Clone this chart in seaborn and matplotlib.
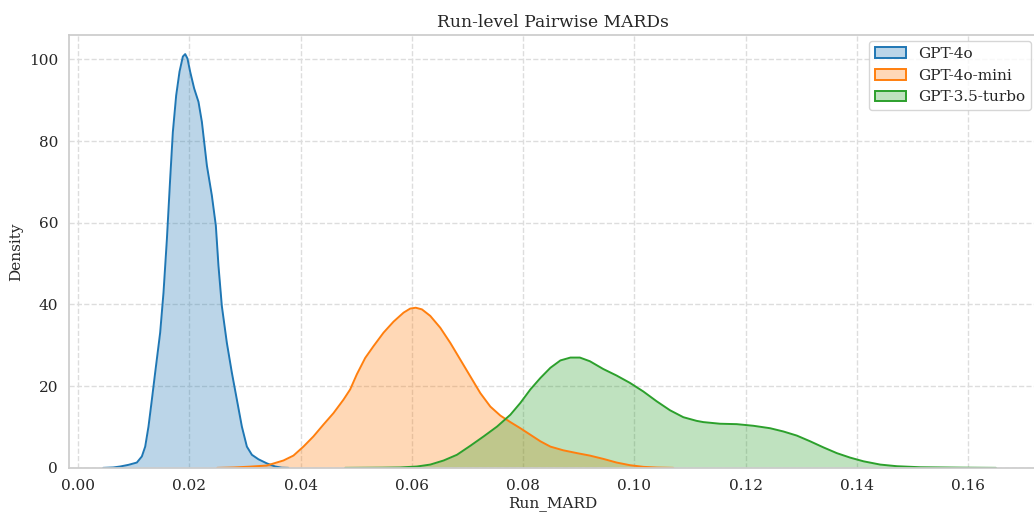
import numpy as np
import pandas as pd
import matplotlib
matplotlib.use("Agg")
import matplotlib.pyplot as plt
from matplotlib.patches import Patch
import seaborn as sns


MODELS = ["GPT-4o", "GPT-4o-mini", "GPT-3.5-turbo"]

# density curves
gpt4o_x = [0.0045, 0.0063, 0.00755, 0.00905, 0.01055, 0.01145, 0.01205, 0.01264,
           0.01325, 0.01384, 0.01474, 0.01534, 0.01595, 0.01654, 0.01702,
           0.01762, 0.01822, 0.01882, 0.01924, 0.01965, 0.02013, 0.02085,
           0.02163, 0.02224, 0.02314, 0.02403, 0.02475, 0.02522, 0.02583,
           0.02673, 0.02763, 0.02853, 0.02943, 0.03033, 0.03123, 0.03241,
           0.03392, 0.03542, 0.0366, 0.0378]
gpt4o_y = [0.0, 0.1, 0.33, 0.74, 1.3, 2.8, 5.2, 10.1,
           16.7, 23.3, 33.1, 42.9, 56.0, 70.8, 82.2,
           91.2, 97.0, 100.7, 101.3, 100.2, 97.0, 92.9,
           89.6, 84.7, 74.0, 66.7, 59.3, 49.5, 39.6,
           30.6, 23.3, 16.7, 10.1, 5.2, 3.2, 2.1,
           1.1, 0.33, 0.05, 0.0]

mini_x = [0.0250, 0.0280, 0.0309, 0.0339, 0.0369, 0.0387, 0.0405, 0.0423, 0.0441,
          0.0459, 0.0477, 0.0489, 0.0501, 0.0516, 0.0531, 0.0549, 0.0567,
          0.0585, 0.0597, 0.0607, 0.0618, 0.0633, 0.0651, 0.0669, 0.0687,
          0.0705, 0.0723, 0.0741, 0.0759, 0.0777, 0.0795, 0.0813, 0.0831,
          0.0849, 0.0872, 0.0897, 0.0920, 0.0944, 0.0968, 0.0992, 0.1016,
          0.1040, 0.1070]
mini_y = [0.0, 0.1, 0.3, 0.57, 1.8, 3.0, 5.2, 7.7, 10.6,
          13.4, 16.7, 19.2, 22.9, 26.9, 29.8, 33.1, 35.8,
          38.0, 39.0, 39.2, 38.8, 37.2, 34.3, 30.6, 26.5,
          22.4, 18.3, 15.0, 12.8, 11.2, 9.7, 8.1, 6.5,
          5.2, 4.3, 3.6, 3.0, 2.2, 1.3, 0.65, 0.25,
          0.08, 0.0]

turbo_x = [0.0480, 0.0548, 0.0579, 0.0609, 0.0633, 0.0657, 0.0681, 0.0705, 0.0729,
           0.0753, 0.0777, 0.0795, 0.0813, 0.0831, 0.0849, 0.0867, 0.0885,
           0.0902, 0.0920, 0.0944, 0.0968, 0.0992, 0.1016, 0.1040, 0.1064,
           0.1088, 0.1112, 0.1124, 0.1154, 0.1184, 0.1214, 0.1244, 0.1268,
           0.1292, 0.1316, 0.1340, 0.1364, 0.1388, 0.1412, 0.1442, 0.1472,
           0.1514, 0.1590, 0.1650]
turbo_y = [0.0, 0.05, 0.1, 0.33, 0.8, 1.8, 3.2, 5.4, 7.7,
           10.1, 13.0, 15.9, 19.2, 22.0, 24.5, 26.3, 27.0,
           27.0, 26.1, 24.2, 22.6, 20.8, 18.7, 16.3, 14.1,
           12.4, 11.5, 11.2, 10.8, 10.7, 10.3, 9.7, 8.9,
           7.9, 6.5, 5.0, 3.6, 2.5, 1.6, 0.8, 0.4,
           0.15, 0.05, 0.0]

COLORS = ["#1f77b4", "#ff7f0e", "#2ca02c"]


def build_frame():

    parts = []

    for name, xs, ys in zip(MODELS,
                            [gpt4o_x, mini_x, turbo_x],
                            [gpt4o_y, mini_y, turbo_y]):
        parts.append(
            pd.DataFrame({"Run_MARD": xs, "Density": ys, "Model": name})
        )

    return pd.concat(parts, ignore_index=True)


def main():

    sns.set_theme(style="whitegrid")
    plt.rcParams["font.family"] = ["DejaVu Serif"]
    plt.rcParams["grid.linestyle"] = "--"
    plt.rcParams["grid.color"] = "#dddddd"

    df = build_frame()

    fig, ax = plt.subplots(figsize=(10.34, 5.13), dpi=100)

    # -----------------------
    # filled density curves
    # -----------------------

    for name, color in zip(MODELS, COLORS):
        sub = df[df["Model"] == name]
        ax.fill_between(sub["Run_MARD"], sub["Density"], color=color,
                        alpha=0.3, linewidth=0)

    sns.lineplot(
        data=df,
        x="Run_MARD",
        y="Density",
        hue="Model",
        hue_order=MODELS,
        palette=COLORS,
        linewidth=1.4,
        legend=False,
        ax=ax
    )

    # right edge of the axes sits just past the canvas, as in the original crop
    ax.set_xlim(-0.0016, 0.1724)
    ax.set_ylim(0, 106)
    ticks = np.arange(0, 0.161, 0.02)
    ax.set_xticks(ticks)
    ax.set_xticklabels([f"{v:.2f}" for v in ticks])
    ax.tick_params(labelsize=11, pad=2)

    ax.set_title("Run-level Pairwise MARDs", fontsize=12.3)
    ax.set_xlabel("Run_MARD", fontsize=11, labelpad=2)
    ax.set_ylabel("Density", fontsize=11)

    for sp in ax.spines.values():
        sp.set_color("#cccccc")

    handles = [
        Patch(facecolor=matplotlib.colors.to_rgba(c, 0.3), edgecolor=c,
              linewidth=1.4, label=m)
        for m, c in zip(MODELS, COLORS)
    ]

    ax.legend(handles=handles, loc="upper right", fontsize=11,
              borderaxespad=0.4)

    fig.subplots_adjust(left=0.067, right=1.003, top=0.932, bottom=0.088)

    fig.savefig("out.png", dpi=100)
    plt.close(fig)


if __name__ == "__main__":
    main()
